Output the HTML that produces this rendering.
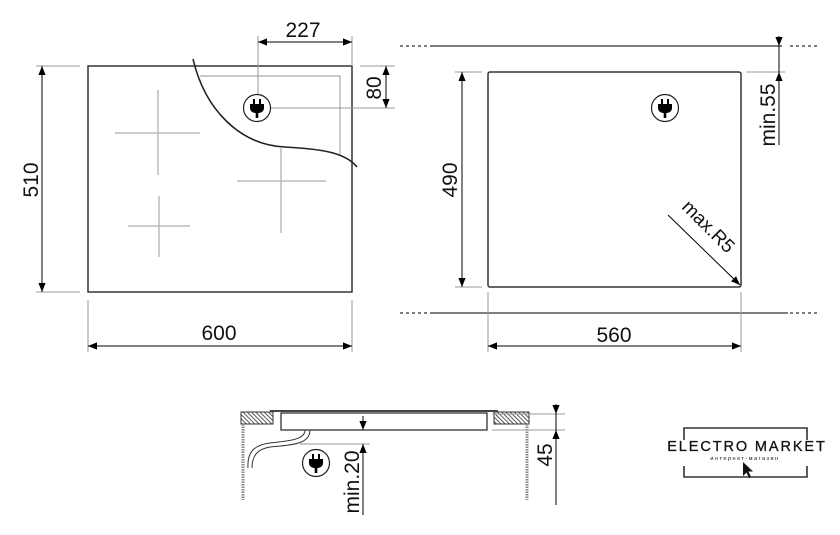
<!DOCTYPE html>
<html><head><meta charset="utf-8"><style>
html,body{margin:0;padding:0;background:#fff;}
svg{display:block;}
text{font-family:"Liberation Sans",sans-serif;fill:#111;}
</style></head><body>
<svg width="840" height="535" viewBox="0 0 840 535" xmlns="http://www.w3.org/2000/svg">
<defs>
<marker id="a" viewBox="0 0 10 10" refX="10" refY="5" markerWidth="9" markerHeight="9" orient="auto-start-reverse" markerUnits="userSpaceOnUse"><path d="M0,1 L10,5 L0,9 z" fill="#000"/></marker>
<pattern id="h" width="3" height="3" patternUnits="userSpaceOnUse" patternTransform="rotate(-45)"><rect width="3" height="3" fill="#fff"/><line x1="0" y1="0" x2="0" y2="3" stroke="#222" stroke-width="1.5"/></pattern>
<g id="plug"><circle cx="0" cy="0" r="13.5" fill="#fff" stroke="#222" stroke-width="1.2"/><rect x="-4" y="-9" width="2" height="5" fill="#000"/><rect x="2" y="-9" width="2" height="5" fill="#000"/><path d="M-7,-4 H7 V0 Q7,4 2,5 H-2 Q-7,4 -7,0 Z" fill="#000"/><rect x="-1.3" y="4" width="2.6" height="6" fill="#000"/></g>
</defs>
<g fill="none" stroke-linecap="butt">
<g stroke="#bbb" stroke-width="1.5">
<line x1="115" y1="133" x2="200" y2="133"/><line x1="158" y1="90" x2="158" y2="175"/>
<line x1="237" y1="181" x2="326" y2="181"/><line x1="281" y1="148" x2="281" y2="233"/>
<line x1="128" y1="226" x2="190" y2="226"/><line x1="159" y1="196" x2="159" y2="257"/>
</g>
<path d="M200,76 H340 V155" stroke="#aaa" stroke-width="1.2"/>
<rect x="88" y="66" width="264" height="226" stroke="#333" stroke-width="1.5"/>
<path d="M193,59 C205,110 240,145 285,147 C320,149 345,152 357,167" stroke="#222" stroke-width="1.6"/>
<g stroke="#999" stroke-width="1">
<line x1="258" y1="36" x2="258" y2="95"/><line x1="352" y1="36" x2="352" y2="66"/>
<line x1="360" y1="66" x2="395" y2="66"/><line x1="270" y1="108" x2="395" y2="108"/>
<line x1="36" y1="66" x2="80" y2="66"/><line x1="36" y1="292" x2="80" y2="292"/>
<line x1="88" y1="300" x2="88" y2="352"/><line x1="352" y1="300" x2="352" y2="352"/>
</g>
<g stroke="#000" stroke-width="1">
<line x1="258" y1="42" x2="352" y2="42" marker-start="url(#a)" marker-end="url(#a)"/>
<line x1="386" y1="66" x2="386" y2="108" marker-start="url(#a)" marker-end="url(#a)"/>
<line x1="42" y1="66" x2="42" y2="292" marker-start="url(#a)" marker-end="url(#a)"/>
<line x1="88" y1="346" x2="352" y2="346" marker-start="url(#a)" marker-end="url(#a)"/>
</g>
<g stroke="#333" stroke-width="1.3">
<line x1="430" y1="46" x2="782" y2="46"/><line x1="430" y1="313" x2="788" y2="313"/>
</g>
<g stroke="#333" stroke-width="1.2" stroke-dasharray="3,3">
<line x1="400" y1="46" x2="430" y2="46"/><line x1="790" y1="46" x2="820" y2="46"/>
<line x1="400" y1="313" x2="430" y2="313"/><line x1="790" y1="313" x2="820" y2="313"/>
</g>
<rect x="488" y="72" width="253" height="215" rx="2" stroke="#333" stroke-width="1.5"/>
<g stroke="#999" stroke-width="1">
<line x1="455" y1="72" x2="482" y2="72"/><line x1="455" y1="287" x2="482" y2="287"/>
<line x1="746" y1="72" x2="785" y2="72"/>
<line x1="488" y1="292" x2="488" y2="352"/><line x1="741" y1="292" x2="741" y2="352"/>
</g>
<g stroke="#000" stroke-width="1">
<line x1="462" y1="72" x2="462" y2="287" marker-start="url(#a)" marker-end="url(#a)"/>
<line x1="488" y1="346" x2="741" y2="346" marker-start="url(#a)" marker-end="url(#a)"/>
<line x1="779" y1="36" x2="779" y2="46" marker-end="url(#a)"/>
<line x1="779" y1="145" x2="779" y2="72" marker-end="url(#a)"/>
<line x1="779" y1="46" x2="779" y2="72"/>
<line x1="668" y1="215" x2="740" y2="285" marker-end="url(#a)"/>
</g>
<rect x="241" y="412" width="32" height="12" fill="url(#h)" stroke="#333" stroke-width="1"/>
<rect x="494" y="412" width="35" height="12" fill="url(#h)" stroke="#333" stroke-width="1"/>
<line x1="270" y1="411" x2="498" y2="411" stroke="#444" stroke-width="2"/>
<rect x="281" y="413" width="206" height="17" stroke="#222" stroke-width="1.2"/>
<g stroke="#888" stroke-width="3" stroke-dasharray="1.5,1">
<line x1="243" y1="424" x2="243" y2="500"/><line x1="527" y1="424" x2="527" y2="500"/>
</g>
<path d="M310,430 C310,445 290,445 270,447 C258,449 252,455 252,468" stroke="#333" stroke-width="1"/>
<path d="M305,430 C305,440 288,441 270,443 C254,445 247,452 248,468" stroke="#333" stroke-width="1"/>
<g stroke="#999" stroke-width="1">
<line x1="300" y1="444" x2="370" y2="444"/>
<line x1="492" y1="414" x2="565" y2="414"/><line x1="492" y1="430" x2="565" y2="430"/>
</g>
<g stroke="#000" stroke-width="1">
<line x1="363" y1="416" x2="363" y2="430" marker-end="url(#a)"/>
<line x1="363" y1="515" x2="363" y2="444" marker-end="url(#a)"/>
<line x1="556" y1="404" x2="556" y2="414" marker-end="url(#a)"/>
<line x1="556" y1="505" x2="556" y2="430" marker-end="url(#a)"/>
<line x1="556" y1="414" x2="556" y2="430"/>
</g>
<path d="M684,440 V428 H807 V440 M684,466 V477 H807 V466" stroke="#333" stroke-width="1.6"/>
<path d="M743,462 L743,476 L746.5,472.5 L749,478 L751,477 L748.5,471.5 L753,471.5 Z" fill="#111" stroke="none"/>
</g>
<use href="#plug" x="257" y="108"/>
<use href="#plug" x="665" y="108"/>
<use href="#plug" x="316" y="463"/>
<text x="303" y="37" font-size="21" text-anchor="middle">227</text>
<text transform="translate(381,88) rotate(-90)" font-size="21" text-anchor="middle">80</text>
<text transform="translate(38,180) rotate(-90)" font-size="21" text-anchor="middle">510</text>
<text x="219" y="340" font-size="21" text-anchor="middle">600</text>
<text transform="translate(457,180) rotate(-90)" font-size="21" text-anchor="middle">490</text>
<text x="614" y="342" font-size="21" text-anchor="middle">560</text>
<text transform="translate(775,115) rotate(-90)" font-size="21" text-anchor="middle">min.55</text>
<text transform="translate(704,231) rotate(45)" font-size="19" text-anchor="middle">max.R5</text>
<text transform="translate(359,482) rotate(-90)" font-size="21" text-anchor="middle">min.20</text>
<text transform="translate(552,455) rotate(-90)" font-size="21" text-anchor="middle">45</text>
<text x="747" y="451" font-size="14.5" text-anchor="middle" letter-spacing="1.9" stroke="#111" stroke-width="0.3">ELECTRO MARKET</text>
<text x="745" y="460" font-size="5.5" text-anchor="middle" letter-spacing="1.5" fill="#444">интернет-магазин</text>
</svg>
</body></html>
